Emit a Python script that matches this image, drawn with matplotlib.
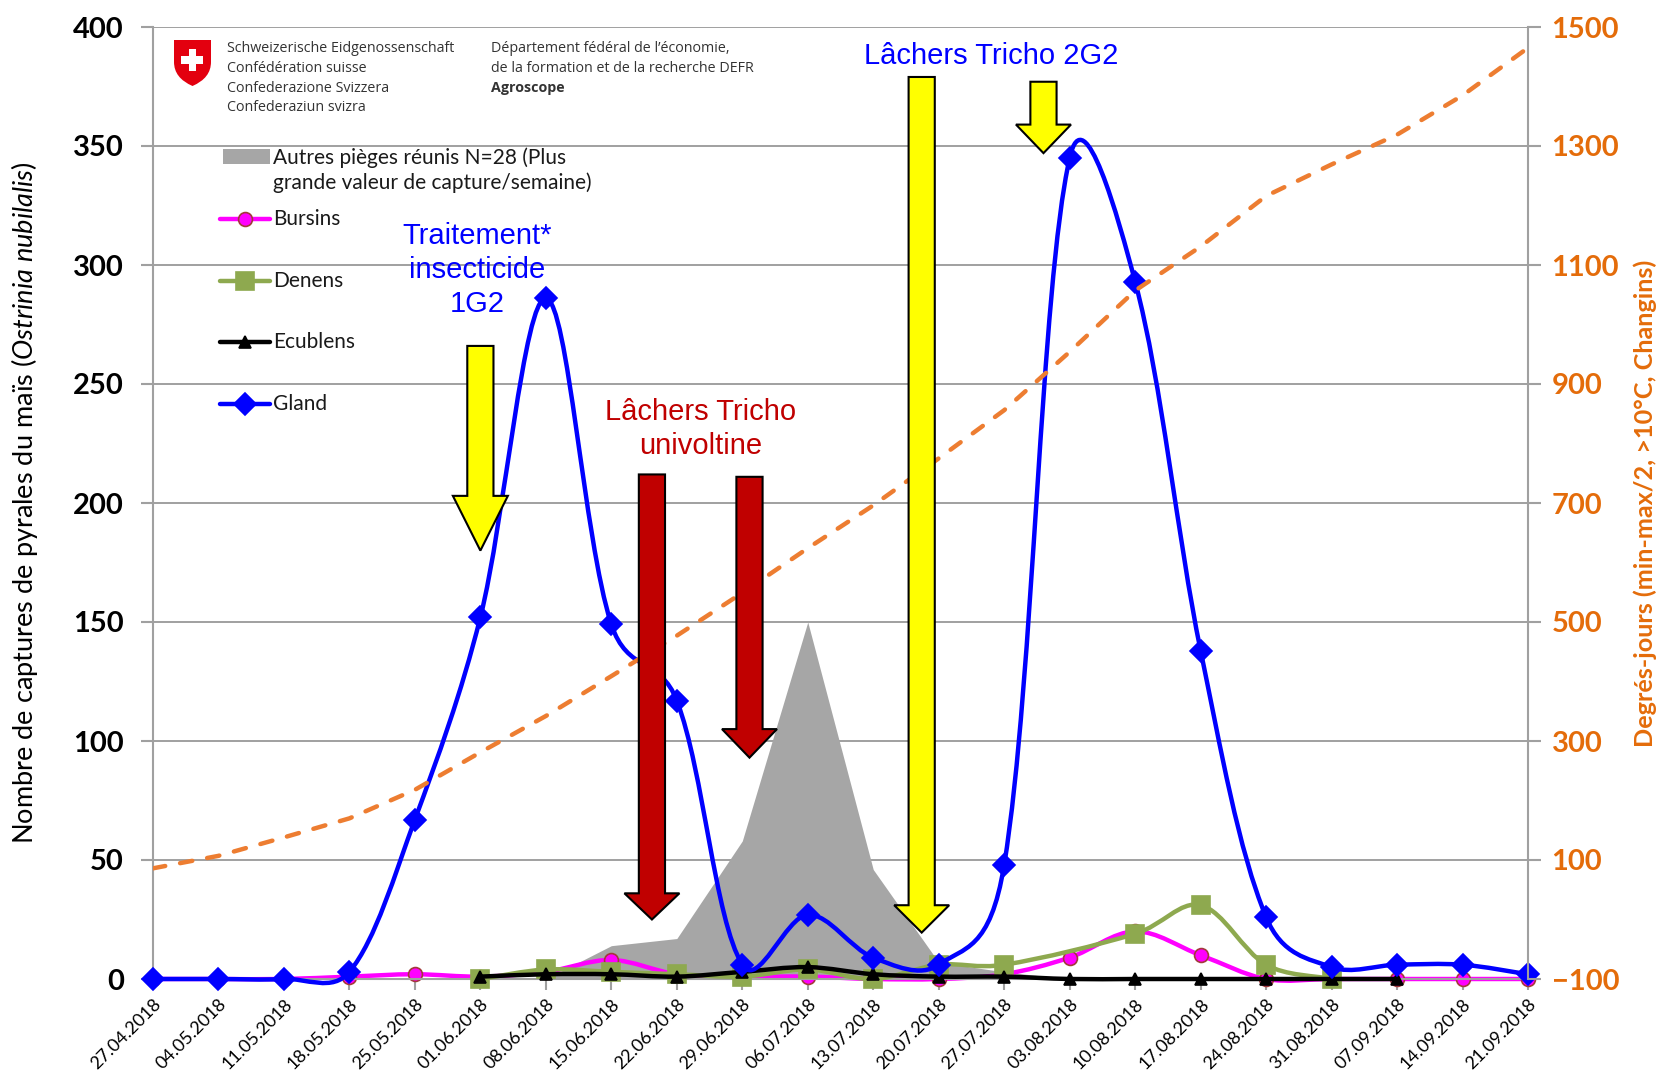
import numpy as np
import matplotlib
matplotlib.use("Agg")
import matplotlib.pyplot as plt
from matplotlib.path import Path
from matplotlib.patches import PathPatch, Polygon, Rectangle
from matplotlib.lines import Line2D

plt.rcParams['font.family'] = ['Lato', 'DejaVu Sans']
plt.rcParams['mathtext.fontset'] = 'custom'
plt.rcParams['mathtext.rm'] = 'Lato'
plt.rcParams['mathtext.it'] = 'Lato:italic'

# ---- données ----
dates = ['27.04.2018', '04.05.2018', '11.05.2018', '18.05.2018', '25.05.2018',
         '01.06.2018', '08.06.2018', '15.06.2018', '22.06.2018', '29.06.2018',
         '06.07.2018', '13.07.2018', '20.07.2018', '27.07.2018', '03.08.2018',
         '10.08.2018', '17.08.2018', '24.08.2018', '31.08.2018', '07.09.2018',
         '14.09.2018', '21.09.2018']
nan = np.nan
autres = [0, 0, 0, 0, 0, 0, 0, 14, 17, 58, 150, 46, 7, 3, 0, 0, 0, 0, 0, 0, 0, 0]
bursins = [0, 0, 0, 1, 2, 1, 3, 8, 2, 1, 1, 0, 0, 2, 9, 20, 10, 0, 0, 0, 0, 0]
denens = [nan, nan, nan, nan, nan, 0, 4, 3, 2, 1, 4, 0, 6, 6, nan, 19, 31, 6, 0,
          nan, nan, nan]
ecublens = [nan, nan, nan, nan, nan, 1, 2, 2, 1, 3, 5, 2, 1, 1, 0, 0, 0, 0, 0, 0,
            nan, nan]
gland = [0, 0, 0, 3, 67, 152, 286, 149, 117, 6, 27, 9, 6, 48, 345, 293, 138, 26,
         5, 6, 6, 2]
degres_jours = [86, 107, 138, 170, 218, 281, 342, 409, 477, 549, 624, 696, 775,
                856, 954, 1057, 1131, 1216, 1269, 1319, 1385, 1465]

W, H = 1658, 1088
AX_L, AX_R, AX_T, AX_B = 153, 1528, 27, 979


def px(x, y):
    return (x / W, 1 - y / H)


def smooth_path(xv, yv):
    # courbe lissée façon Excel, calculée en pixels (bezier passant par les points)
    sx = (AX_R - AX_L) / 21
    sy = (AX_B - AX_T) / 400
    pts = np.array([(a * sx, b * sy) for a, b in zip(xv, yv) if not np.isnan(b)])
    n = len(pts)
    verts = [pts[0]]
    codes = [Path.MOVETO]
    for i in range(n - 1):
        p0 = pts[i - 1] if i > 0 else pts[i]
        p1, p2 = pts[i], pts[i + 1]
        p3 = pts[i + 2] if i + 2 < n else pts[i + 1]
        d01 = np.hypot(*(p1 - p0))
        d12 = np.hypot(*(p2 - p1))
        d23 = np.hypot(*(p3 - p2))
        w1 = 0.25 + 0.5 * d12 / (d01 + d12) if d01 + d12 > 0 else 0
        w2 = 0.25 + 0.5 * d12 / (d12 + d23) if d12 + d23 > 0 else 0
        c1 = p1 + (p2 - p0) * w1 / 3
        c2 = p2 - (p3 - p1) * w2 / 3
        verts += [c1, c2, p2]
        codes += [Path.CURVE4] * 3
    verts = np.array(verts) / [sx, sy]
    return Path(verts, codes)


x = np.arange(len(dates))

fig = plt.figure(figsize=(W / 100, H / 100), dpi=100)
ax = fig.add_axes([AX_L / W, 1 - AX_B / H, (AX_R - AX_L) / W, (AX_B - AX_T) / H])

ax.fill_between(x, 0, autres, color='#A6A6A6', lw=0, zorder=1)

series = [
    (bursins, '#FF00FF', 'o', 10, '#A33A3A', 2),
    (denens, '#8EA94F', 's', 13, '#8EA94F', 3),
    (ecublens, '#000000', '^', 9, '#000000', 4),
    (gland, '#0000FF', 'D', 11.5, '#0000FF', 5),
]
for vals, col, mk, ms, mec, z in series:
    ax.add_patch(PathPatch(smooth_path(x, vals), fill=False, edgecolor=col, lw=3.2,
                           capstyle='round', joinstyle='round', zorder=z, clip_on=False))
    ax.plot(x, vals, ls='none', marker=mk, ms=ms, mfc=col, mec=mec, mew=1.2,
            zorder=z + 0.5, clip_on=False)

ax.set_xlim(0, 21)
ax.set_ylim(0, 400)
ax.set_yticks(np.arange(0, 401, 50))
ax.set_xticks(x)
ax.set_xticklabels(dates, rotation=45, ha='right', rotation_mode='anchor', fontsize=13)
ax.grid(axis='y', color='#A0A0A0', lw=1.4)
ax.set_axisbelow(True)
for s in ['left', 'bottom']:
    ax.spines[s].set_color('#A0A0A0')
    ax.spines[s].set_linewidth(1.5)
ax.spines['top'].set_visible(False)
ax.spines['right'].set_visible(False)
ax.tick_params(axis='y', length=9, width=1.5, color='#A0A0A0', labelsize=21, pad=12)
ax.tick_params(axis='x', length=8, width=1.5, color='#A0A0A0', pad=4)
for t in ax.get_yticklabels():
    t.set_fontweight('bold')
ax.set_ylabel('Nombre de captures de pyrales du maïs ($\\mathit{Ostrinia\\ nubilalis}$)',
              fontsize=19.5)
ax.yaxis.set_label_coords(-(AX_L - 40) / (AX_R - AX_L), 0.5)

ax2 = ax.twinx()
ax2.plot(x, degres_jours, color='#ED7D31', lw=3.2, ls=(0, (2.8, 3.4)),
         dash_capstyle='round', zorder=6)
ax2.set_ylim(-100, 1500)
ax2.set_yticks(np.arange(-100, 1501, 200))
ax2.spines['right'].set_color('#A0A0A0')
ax2.spines['right'].set_linewidth(1.5)
for s in ['top', 'left', 'bottom']:
    ax2.spines[s].set_visible(False)
ax2.tick_params(axis='y', length=9, width=1.5, color='#A0A0A0', labelsize=21,
                labelcolor='#E46C0A', pad=8)
for t in ax2.get_yticklabels():
    t.set_fontweight('bold')
ax2.set_ylabel('Degrés-jours (min-max/2, >10°C, Changins)', fontsize=18.2,
               fontweight='bold', color='#E46C0A', rotation=90)
ax2.yaxis.set_label_coords(1 + (1633 - AX_R) / (AX_R - AX_L), 0.5)


# ---- flèches ----
def down_arrow(xc, top, base, tip, color, sw=0.2, hw=0.42):
    pts = [(xc - sw, top), (xc + sw, top), (xc + sw, base), (xc + hw, base),
           (xc, tip), (xc - hw, base), (xc - sw, base)]
    ax2.add_patch(Polygon(pts, closed=True, facecolor=color, edgecolor='black',
                          lw=1.5, transform=ax.transData, zorder=10, clip_on=False))


down_arrow(5.0, 266, 203, 180, '#FFFF00')
down_arrow(11.74, 379, 31, 19.5, '#FFFF00')
down_arrow(13.6, 377, 359, 347, '#FFFF00')
down_arrow(7.62, 212, 36, 25, '#C00000')
down_arrow(9.11, 211, 105, 93, '#C00000')

afont = dict(family=['Liberation Sans', 'DejaVu Sans'], fontsize=21, ha='center',
             va='center', transform=ax.transData, zorder=11)
ax2.text(4.95, 298, 'Traitement*\ninsecticide\n1G2', color='#0000FF',
         linespacing=1.27, **afont)
ax2.text(8.36, 231, 'Lâchers Tricho\nunivoltine', color='#C00000',
         linespacing=1.27, **afont)
ax2.text(12.8, 388, 'Lâchers Tricho 2G2', color='#0000FF', **afont)

# ---- légende ----
lx0, lx1, ltx = 220, 270, 273
fig.add_artist(Rectangle(px(223, 164), 47 / W, 15 / H, transform=fig.transFigure,
                         facecolor='#A6A6A6', lw=0))
fig.text(*px(ltx, 170), 'Autres pièges réunis N=28 (Plus\ngrande valeur de capture/semaine)',
         fontsize=15, va='center', ha='left', linespacing=1.3, color='#1a1a1a')
leg = [('Bursins', 219, '#FF00FF', 'o', 10, '#A33A3A'),
       ('Denens', 281, '#8EA94F', 's', 13, '#8EA94F'),
       ('Ecublens', 342, '#000000', '^', 9, '#000000'),
       ('Gland', 404, '#0000FF', 'D', 11.5, '#0000FF')]
for name, yy, col, mk, ms, mec in leg:
    (xa, ya), (xb, _) = px(lx0, yy), px(lx1, yy)
    fig.add_artist(Line2D([xa, xb], [ya, ya], color=col, lw=3.2,
                          solid_capstyle='round', transform=fig.transFigure))
    fig.add_artist(Line2D([(xa + xb) / 2], [ya], ls='none', marker=mk, ms=ms,
                          mfc=col, mec=mec, mew=1.2, transform=fig.transFigure))
    fig.text(*px(ltx, yy), name, fontsize=15, va='center', ha='left', color='#1a1a1a')

# ---- en-tête Confédération ----
sx0, sx1, sy0, sy1 = 174, 211, 40, 86
sm = (sx0 + sx1) / 2
shield = Path([px(sx0, sy0), px(sx1, sy0), px(sx1, 62), px(sx1, 78), px(sm, sy1),
               px(sx0, 78), px(sx0, 62), px(sx0, sy0)],
              [Path.MOVETO, Path.LINETO, Path.LINETO, Path.CURVE3, Path.CURVE3,
               Path.CURVE3, Path.CURVE3, Path.CLOSEPOLY])
fig.add_artist(PathPatch(shield, facecolor='#E3000F', lw=0, transform=fig.transFigure))
cy = 60
fig.add_artist(Rectangle(px(sm - 11, cy + 3.5), 22 / W, 7 / H, facecolor='white',
                         lw=0, transform=fig.transFigure))
fig.add_artist(Rectangle(px(sm - 3.5, cy + 11), 7 / W, 22 / H, facecolor='white',
                         lw=0, transform=fig.transFigure))
hfont = dict(family=['Open Sans', 'DejaVu Sans'], fontsize=10.3, color='#333333',
             va='center', ha='left')
for i, s in enumerate(['Schweizerische Eidgenossenschaft', 'Confédération suisse',
                       'Confederazione Svizzera', 'Confederaziun svizra']):
    fig.text(*px(227, 49 + i * 19.6), s, **hfont)
fig.text(*px(491, 49), 'Département fédéral de l’économie,', **hfont)
fig.text(*px(491, 68.6), 'de la formation et de la recherche DEFR', **hfont)
fig.text(*px(491, 88.2), 'Agroscope', fontweight='bold', **hfont)

fig.savefig('out.png', dpi=100)
